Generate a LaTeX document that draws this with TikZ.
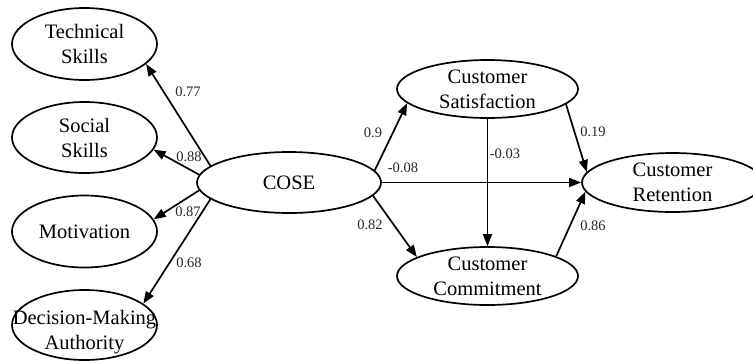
\documentclass[tikz,border=0pt]{standalone}
\usepackage{fontspec}
\setmainfont{Liberation Serif}
\usetikzlibrary{shapes.geometric,arrows.meta}
\begin{document}
\begin{tikzpicture}[x=1pt,y=-1pt,
  ell/.style={draw=black,ellipse,line width=1.7pt,inner sep=0pt,minimum width=#1},
  ell/.default=145pt,
  nt/.style={align=center,font=\fontsize{20.5}{25}\selectfont,inner sep=0pt},
  wt/.style={font=\fontsize{14.5}{16}\selectfont,text=black!85,inner sep=0pt},
  arr/.style={line width=1.7pt,-{Triangle[length=12pt,width=9pt]}}]
\clip (0,0) rectangle (753,360);
\useasboundingbox (0,0) rectangle (753,360);
% nodes
\node[ell,minimum height=72pt,label={[nt]center:Technical\\Skills}] (tech) at (84.5,44) {};
\node[ell,minimum height=71pt,label={[nt]center:Social\\Skills}] (soc) at (84.5,137.5) {};
\node[ell,minimum height=72pt,label={[nt]center:Motivation}] (mot) at (84.5,231.5) {};
\node[ell,minimum height=70pt,label={[nt,yshift=-7pt]center:Decision-Making\\Authority}] (dec) at (84.5,325) {};
\node[ell=184pt,minimum height=61pt,label={[nt]center:COSE}] (cose) at (289,182.5) {};
\node[ell=181pt,minimum height=58pt,label={[nt]center:Customer\\Satisfaction}] (sat) at (487.5,89) {};
\node[ell=181pt,minimum height=58pt,label={[nt]center:Customer\\Commitment}] (com) at (487.5,276) {};
\node[ell=181pt,minimum height=59pt,label={[nt]center:Customer\\Retention}] (ret) at (672.5,182.5) {};
% edges
\draw[arr] (cose.168) -- (tech.-18.6);
\draw[arr] (cose.175.2) -- (soc.-10.3);
\draw[arr] (cose.185.5) -- (mot.10.8);
\draw[arr] (cose.192.1) -- (dec.20.2);
\draw[arr] (cose.8.6) -- (sat.190.2);
\draw[arr] (cose.-9.2) -- (com.165.9);
\draw[arr] (cose.east) -- (ret.west);
\draw[arr] (sat.south) -- (com.north);
\draw[arr] (sat.-11.4) -- (ret.173.2);
\draw[arr] (com.16.8) -- (ret.186.7);
% weights
\node[wt] (w1) at (188,92) {0.77};
\node[wt] (w2) at (189,157) {0.88};
\node[wt] (w3) at (188,212) {0.87};
\node[wt] (w4) at (189,263) {0.68};
\node[wt] (w5) at (373,133) {0.9};
\node[wt] (w6) at (403,168) {-0.08};
\node[wt] (w7) at (505,154) {-0.03};
\node[wt] (w8) at (370,225) {0.82};
\node[wt] (w9) at (593,132) {0.19};
\node[wt] (w10) at (593,226) {0.86};
\end{tikzpicture}
\end{document}
